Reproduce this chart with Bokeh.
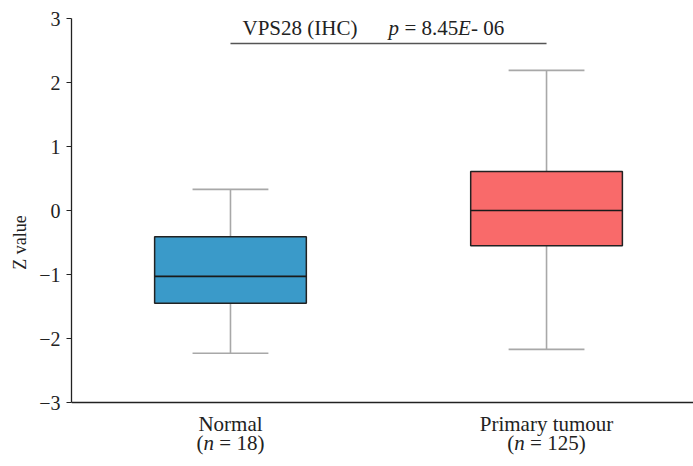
from bokeh.plotting import figure
from bokeh.models import Range1d, FixedTicker
from bokeh.core.properties import value
from bokeh.embed import file_html
from bokeh.resources import INLINE

# Data
groups = ["Normal", "Primary tumour"]
n_counts = [18, 125]
xs = [1, 2]
upper = [0.33, 2.19]
q3 = [-0.41, 0.61]
median = [-1.03, 0.0]
q1 = [-1.45, -0.55]
lower = [-2.23, -2.17]
colors = ["#3A9AC9", "#F96A6A"]
yticks = [-3, -2, -1, 0, 1, 2, 3]
y_min, y_max = -3, 3
gene = "VPS28 (IHC)"
p_value = "8.45"
p_exp = "- 06"

FONT = "Liberation Serif"
FS = 21
BOX_W = 0.48
CAP_W = 0.24
TXT = "#222222"

# frame runs to the bottom of the page so the category labels can sit below the x axis line
p = figure(width=693, height=466, x_range=Range1d(0.497, 2.465), y_range=Range1d(-4.0, 3),
           output_backend="svg", toolbar_location=None,
           min_border_left=71, min_border_right=0, min_border_top=18, min_border_bottom=0)
p.grid.visible = False
p.outline_line_color = None

# x axis placed at y = -3
p.xaxis.fixed_location = y_min
p.xaxis.ticker = FixedTicker(ticks=[])
p.xaxis.axis_line_color = "#222222"
p.xaxis.axis_line_width = 1.5
p.xaxis.major_tick_line_color = None
p.xaxis.minor_tick_line_color = None
p.xaxis.major_label_standoff = 0
p.xaxis.major_label_text_font_size = "0px"

p.yaxis.bounds = (y_min, y_max)
p.yaxis.ticker = FixedTicker(ticks=yticks)
p.yaxis.axis_line_color = "#222222"
p.yaxis.axis_line_width = 1.3
p.yaxis.major_tick_line_color = "#222222"
p.yaxis.major_tick_out = 5
p.yaxis.major_tick_in = 0
p.yaxis.minor_tick_line_color = None
p.yaxis.major_label_text_font = FONT
p.yaxis.major_label_text_font_size = "20px"
p.yaxis.major_label_text_color = TXT
p.yaxis.major_label_standoff = 6
p.yaxis.axis_label = "Z value"
p.yaxis.axis_label_text_font = FONT
p.yaxis.axis_label_text_font_size = "18px"
p.yaxis.axis_label_text_font_style = "normal"
p.yaxis.axis_label_text_color = TXT
p.yaxis.axis_label_standoff = 6

# whiskers
wc = "#A8A8A8"
p.segment(x0=xs, y0=q3, x1=xs, y1=upper, line_color=wc, line_width=1.6)
p.segment(x0=xs, y0=q1, x1=xs, y1=lower, line_color=wc, line_width=1.6)
p.segment(x0=[x - CAP_W / 2 for x in xs], y0=upper, x1=[x + CAP_W / 2 for x in xs], y1=upper,
          line_color=wc, line_width=1.6)
p.segment(x0=[x - CAP_W / 2 for x in xs], y0=lower, x1=[x + CAP_W / 2 for x in xs], y1=lower,
          line_color=wc, line_width=1.6)

# boxes
p.vbar(x=xs, width=BOX_W, top=q3, bottom=q1, fill_color=colors, line_color="#222222", line_width=1.5)
p.segment(x0=[x - BOX_W / 2 for x in xs], y0=median, x1=[x + BOX_W / 2 for x in xs], y1=median,
          line_color="#1a1a1a", line_width=1.6)

# significance bar
p.segment(x0=[xs[0]], y0=[2.61], x1=[xs[1]], y1=[2.61], line_color="#555555", line_width=1.6)


def txt(x, y, text, xoff=0, align="left", style="normal"):
    p.text(x=[x], y=[y], text=[text], x_offset=xoff, text_align=align,
           text_baseline="alphabetic", text_font=value(FONT), text_font_size=f"{FS}px",
           text_font_style=style, text_color=TXT)


# title texts
TY = 2.844
txt(xs[0], TY, gene, xoff=12)
txt(xs[0], TY, "p", xoff=158, style="italic")
txt(xs[0], TY, "= " + p_value, xoff=174)
txt(xs[0], TY, "E", xoff=227.5, style="italic")
txt(xs[0], TY, p_exp, xoff=240.5)

# category labels below the x axis
for x, g, n in zip(xs, groups, n_counts):
    txt(x, -3.33, g, align="center")
    s = "= " + str(n) + ")"
    tot = FS * (0.333 + 0.5 + 0.25 + 0.564 + 0.25 + 0.5 * len(str(n)) + 0.333)
    start = -tot / 2
    txt(x, -3.625, "(", xoff=start)
    txt(x, -3.625, "n", xoff=start + 0.333 * FS, style="italic")
    txt(x, -3.625, s, xoff=start + (0.333 + 0.5 + 0.25) * FS)

open("out.html", "w").write(file_html(p, INLINE))
